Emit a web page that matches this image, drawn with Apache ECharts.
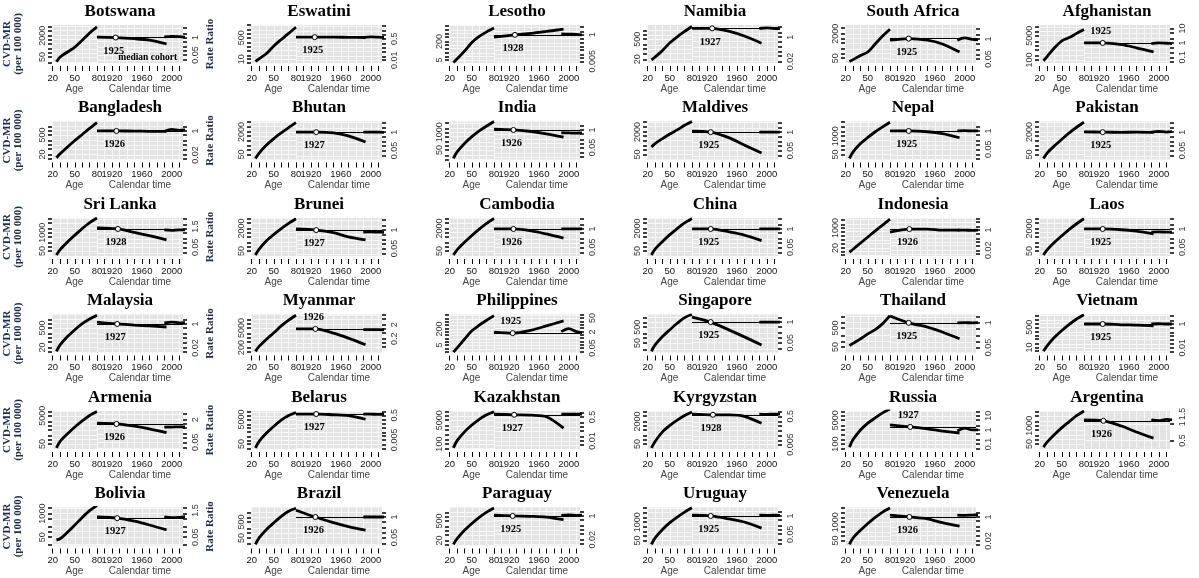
<!DOCTYPE html>
<html>
<head>
<meta charset="utf-8">
<script src="https://cdn.jsdelivr.net/npm/echarts@6/dist/echarts.min.js"></script>
<style>
    html, body { margin: 0; padding: 0; background: #fff; }
    #chart { width: 1199px; height: 578px; }
</style>
</head>
<body>
<div id="chart"></div>
<script>
var COUNTRIES = ['Botswana', 'Eswatini', 'Lesotho', 'Namibia', 'South Africa', 'Afghanistan',
    'Bangladesh', 'Bhutan', 'India', 'Maldives', 'Nepal', 'Pakistan',
    'Sri Lanka', 'Brunei', 'Cambodia', 'China', 'Indonesia', 'Laos',
    'Malaysia', 'Myanmar', 'Philippines', 'Singapore', 'Thailand', 'Vietnam',
    'Armenia', 'Belarus', 'Kazakhstan', 'Kyrgyzstan', 'Russia', 'Argentina',
    'Bolivia', 'Brazil', 'Paraguay', 'Uruguay', 'Venezuela'];

var MEDIAN_COHORT = [1925, 1925, 1928, 1927, 1925, 1925,
    1926, 1927, 1926, 1925, 1925, 1925,
    1928, 1927, 1926, 1925, 1926, 1925,
    1927, 1926, 1925, 1925, 1925, 1925,
    1926, 1927, 1927, 1928, 1927, 1926,
    1927, 1926, 1925, 1925, 1926];

// median cohort label drawn above the line in these panels
var LABEL_ABOVE = ['Afghanistan', 'Myanmar', 'Philippines', 'Russia'];

// left axis (CVD-MR, log) range and labelled ticks
var RATE_RANGE = [[18, 12700], [5, 5000], [2.7, 5400], [11, 4900], [24, 7600], [62, 27700],
    [9, 4500], [22, 11000], [10, 6300], [22, 11000], [22, 11000], [22, 11000],
    [22, 11000], [22, 11000], [22, 11000], [22, 11000], [4.3, 6800], [22, 11000],
    [9, 4500], [90, 45000], [0.87, 5500], [12.5, 3150], [26, 2600], [3.8, 6000],
    [22, 11000], [20, 25000], [45, 22500], [22, 11000], [45, 22500], [22, 11000],
    [17.3, 2180], [16.5, 4150], [9, 4500], [22, 11000], [22, 11000]];
var RATE_LABELS = [[50, 2000], [10, 500], [5, 200], [20, 500], [50, 2000], [100, 5000],
    [20, 500], [50, 2000], [50, 1000], [50, 2000], [50, 1000], [50, 2000],
    [50, 1000], [50, 2000], [50, 2000], [50, 2000], [20, 1000], [50, 2000],
    [20, 500], [200, 5000], [5, 200], [50, 500], [50, 500], [10, 500],
    [50, 5000], [50, 5000], [100, 5000], [50, 2000], [100, 5000], [50, 1000],
    [50, 1000], [50, 500], [20, 500], [50, 1000], [50, 1000]];

// right axis (Rate Ratio, log) range and labelled ticks
var RR_RANGE = [[0.0123, 8.7], [0.006, 6], [0.0036, 7.2], [0.016, 7], [0.027, 8.4], [0.04, 17.8],
    [0.0094, 4.7], [0.0114, 5.7], [0.0066, 4.2], [0.0114, 5.7], [0.0094, 4.7], [0.0114, 5.7],
    [0.012, 6], [0.0145, 7.2], [0.012, 6], [0.012, 6], [0.0066, 10.5], [0.012, 6],
    [0.0094, 4.7], [0.021, 10.6], [0.018, 113], [0.012, 3.0], [0.0275, 2.75], [0.004, 6.3],
    [0.0166, 8.3], [0.0009, 1.13], [0.0027, 1.35], [0.0024, 1.2], [0.045, 22], [0.35, 1.7],
    [0.0173, 2.17], [0.0158, 4], [0.0079, 4], [0.0079, 4], [0.0094, 4.7]];
var RR_LABELS = [[0.05, 1], [0.01, 0.5], [0.005, 1], [0.02, 1], [0.05, 1], [0.1, 1, 10],
    [0.02, 1], [0.05, 1], [0.05, 1], [0.05, 1], [0.05, 1], [0.05, 1],
    [0.05, 1.5], [0.05, 1], [0.05, 1], [0.05, 1], [0.02, 1], [0.05, 1],
    [0.02, 1], [0.2, 2], [0.05, 2, 50], [0.05, 1], [0.05, 1], [0.01, 1],
    [0.05, 2], [0.005, 0.5], [0.01, 0.5], [0.005, 0.5], [0.1, 1, 10], [0.5, 1, 1.5],
    [0.05, 1.5], [0.05, 1], [0.02, 1], [0.05, 1], [0.02, 1]];

// age effect: CVD mortality per 100 000
var AGES = [25, 30, 40, 50, 60, 70, 80];
var AGE_RATES = [
    [22, 51, 120, 283, 920, 3200, 9200],
    [6.6, 10.7, 28, 112, 360, 1100, 3300],
    [2.9, 6.2, 29, 163, 550, 1360, 2900],
    [18, 29, 83, 280, 740, 1740, 3860],
    [30, 40, 76, 127, 430, 1430, 4000],
    [89, 175, 710, 2150, 3700, 7200, 13300],
    [12, 23, 70, 200, 540, 1470, 3750],
    [26, 63, 233, 670, 1700, 4100, 9200],
    [12, 36, 150, 480, 1260, 2950, 6300],
    [172, 300, 670, 1420, 2800, 5900, 11000],
    [26, 76, 300, 810, 2060, 4600, 9700],
    [26, 63, 206, 600, 1700, 4300, 9700],
    [26, 63, 220, 670, 1950, 5200, 11000],
    [26, 67, 265, 760, 1950, 4600, 9700],
    [26, 60, 206, 630, 1800, 4600, 10200],
    [26, 67, 233, 720, 1950, 4900, 10200],
    [9, 16, 53, 170, 560, 1700, 5400],
    [26, 60, 206, 600, 1700, 4300, 9700],
    [11, 31, 122, 375, 1000, 2130, 4000],
    [108, 243, 790, 2270, 7000, 17700, 40000],
    [0.95, 2.5, 18.5, 128, 470, 1470, 4200],
    [15, 38, 128, 345, 880, 2000, 3150],
    [60, 79, 136, 248, 412, 860, 2270],
    [4.8, 14, 72, 270, 880, 2500, 5600],
    [26, 76, 265, 810, 2200, 5300, 10000],
    [25, 83, 400, 1440, 4560, 10700, 19000],
    [54, 176, 740, 2260, 5770, 12000, 20000],
    [26, 76, 360, 1040, 2470, 5200, 9200],
    [61, 210, 1000, 3080, 7300, 16500, 30800],
    [30, 67, 233, 720, 1950, 5200, 11000],
    [36, 41, 94, 235, 620, 1470, 2800],
    [19.5, 50, 168, 455, 1150, 2400, 3700],
    [10.8, 27.5, 108, 330, 900, 2130, 4200],
    [26, 76, 300, 920, 2300, 5200, 10400],
    [26, 76, 265, 810, 2200, 5200, 10000]
];

// cohort rate ratios at 1900, median cohort, 1950, 1970, 1993
var COHORT_RR = [
    [1.07, 1, 0.82, 0.63, 0.33],
    [0.66, 0.66, 0.66, 0.64, 0.62],
    [0.63, 1, 1.36, 1.98, 3.1],
    [4.1, 4.1, 2.5, 1.2, 0.38],
    [0.85, 1.08, 0.85, 0.48, 0.14],
    [1.01, 1, 0.75, 0.46, 0.24],
    [1, 1, 0.98, 0.95, 0.95],
    [1, 1, 0.88, 0.54, 0.2],
    [1.14, 1, 0.77, 0.52, 0.29],
    [1.2, 1, 0.39, 0.12, 0.033],
    [1, 1, 0.88, 0.65, 0.33],
    [1.05, 1, 0.97, 1.0, 0.95],
    [1.2, 1, 0.57, 0.33, 0.17],
    [1.2, 1, 0.65, 0.33, 0.2],
    [1, 1, 0.73, 0.44, 0.22],
    [1, 1, 0.61, 0.37, 0.15],
    [0.69, 1.23, 1.23, 1.0, 0.99],
    [1, 1, 0.88, 0.69, 0.45],
    [1.36, 1, 0.83, 0.73, 0.61],
    [1, 1, 0.5, 0.22, 0.074],
    [2.0, 1.56, 3.1, 8.2, 25.6],
    [2.05, 1, 0.31, 0.116, 0.036],
    [2.3, 1, 0.6, 0.33, 0.145],
    [1, 1, 0.86, 0.8, 0.69],
    [1.13, 1, 0.69, 0.45, 0.24],
    [0.64, 0.64, 0.56, 0.48, 0.24],
    [0.82, 0.72, 0.68, 0.53, 0.082],
    [0.72, 0.64, 0.64, 0.5, 0.16],
    [2.26, 1.65, 1.2, 0.84, 0.61],
    [1.17, 1.13, 0.91, 0.71, 0.55],
    [0.65, 0.56, 0.38, 0.235, 0.125],
    [2.7, 1, 0.44, 0.25, 0.15],
    [1.13, 1, 0.94, 0.83, 0.54],
    [1.13, 1, 0.61, 0.37, 0.137],
    [1.36, 1, 0.73, 0.39, 0.22]
];

// period rate ratios
var PERIOD_YEARS = [1990, 2000, 2010, 2019];
var PERIOD_RR = [
    [1.1, 1.2, 1.15, 1.05], [0.64, 0.7, 0.66, 0.62], [1.2, 1.15, 1.1, 1.0], [4.0, 4.4, 4.0, 4.0],
    [0.85, 1.2, 0.95, 0.9], [0.9, 1.0, 0.95, 0.9], [0.95, 1.3, 1.1, 1.2], [1, 1, 1, 0.95],
    [0.62, 0.6, 0.58, 0.6], [1, 1, 1, 1], [1, 1.05, 1, 1], [1, 1.15, 1.0, 1.1],
    [0.85, 0.8, 0.85, 0.85], [0.72, 0.75, 0.72, 0.7], [1, 1, 1, 1], [1, 1, 1, 1],
    [1, 1, 0.95, 1], [0.6, 0.62, 0.6, 0.6], [1.2, 1.35, 1.2, 1.25], [0.9, 0.88, 0.88, 0.85],
    [2.2, 4.4, 2.2, 1.7], [1, 1, 1, 1], [1, 1.02, 1, 1.02], [1, 1.05, 1, 1],
    [0.6, 0.6, 0.62, 0.6], [0.64, 0.62, 0.6, 0.62], [0.82, 0.8, 0.82, 0.8], [0.72, 0.7, 0.72, 0.72],
    [0.84, 1.37, 1.0, 1.0], [1.17, 1.14, 1.2, 1.17], [0.65, 0.6, 0.62, 0.68], [1, 1, 1, 1],
    [1.1, 1.2, 1.1, 1.15], [1.13, 1.1, 1.13, 1.1], [1.36, 1.3, 1.36, 1.4]
];

// x axis ticks
var AGE_TICKS = [20, 30, 40, 50, 60, 70, 80];
var AGE_TICK_LABELS = [20, 50, 80];
var YEAR_TICKS = [1900, 1910, 1920, 1930, 1940, 1950, 1960, 1970, 1980, 1990, 2000, 2010];
var YEAR_TICK_LABELS = [1920, 1960, 2000];
var LOG_STEPS = [0.0005, 0.001, 0.002, 0.005, 0.01, 0.02, 0.05, 0.1, 0.2, 0.5, 1, 2, 5,
    10, 20, 50, 100, 200, 500, 1000, 2000, 5000, 10000, 20000, 50000];

(function () {
    var mychart = echarts.init(document.getElementById('chart'));

    var COL_LEFT = [52, 251, 449, 647, 845, 1039];
    var AGE_W = 45, CAL_W = 86, PLOT_H = 38;
    var BG = '#e4e4e4';
    var SANS = 'Liberation Sans', SERIF = 'Liberation Serif';

    function ticksIn(range) {
        return LOG_STEPS.filter(function (v) { return v >= range[0] && v <= range[1]; });
    }
    function pairs(xs, ys) {
        return xs.map(function (x, k) { return [x, ys[k]]; });
    }
    // plain numbers, no thousands separator
    function plain(v) {
        return String(+Number(v).toPrecision(6));
    }

    var grids = [], xAxes = [], yAxes = [], series = [], titles = [];

    COUNTRIES.forEach(function (name, i) {
        var r = Math.floor(i / 6), c = i % 6;
        var L = COL_LEFT[c], T = 25 + r * 96.5;
        var gA = 2 * i, gC = 2 * i + 1;
        var med = MEDIAN_COHORT[i];
        var above = LABEL_ABOVE.indexOf(name) >= 0;

        titles.push({
            text: name, left: L + 68, top: 3 + r * 96.5, textAlign: 'center', padding: 0,
            textStyle: {fontFamily: SERIF, fontWeight: 'bold', fontSize: 17, color: '#000'}
        });

        grids.push({left: L, top: T, width: AGE_W, height: PLOT_H, show: true,
            backgroundColor: BG, borderWidth: 0});
        grids.push({left: L + AGE_W, top: T, width: CAL_W, height: PLOT_H, show: true,
            backgroundColor: BG, borderWidth: 0});

        var xCommon = {
            type: 'value', position: 'bottom', offset: 3,
            axisLine: {show: false},
            splitLine: {show: true, lineStyle: {color: '#f7f7f7', width: 1}},
            nameLocation: 'middle', nameGap: 18,
            nameTextStyle: {fontFamily: SANS, fontSize: 10, color: '#444'}
        };
        xAxes.push(Object.assign({}, xCommon, {
            gridIndex: gA, min: 19, max: 80, name: 'Age',
            axisTick: {length: 5, customValues: AGE_TICKS, lineStyle: {color: '#000', width: 1}},
            axisLabel: {customValues: AGE_TICK_LABELS, margin: 7, fontFamily: SANS, fontSize: 9.5,
                color: '#111', formatter: plain}
        }));
        xAxes.push(Object.assign({}, xCommon, {
            gridIndex: gC, min: 1900, max: 2015, name: 'Calendar time',
            axisTick: {length: 5, customValues: YEAR_TICKS, lineStyle: {color: '#000', width: 1}},
            axisLabel: {customValues: YEAR_TICK_LABELS, margin: 7, fontFamily: SANS, fontSize: 9.5,
                color: '#111', formatter: plain}
        }));

        var yNameStyle = {fontFamily: SERIF, fontWeight: 'bold', fontSize: 11, color: '#1f2d4d', lineHeight: 11};
        yAxes.push({
            type: 'log', gridIndex: gA, min: RATE_RANGE[i][0], max: RATE_RANGE[i][1], position: 'left',
            axisLine: {show: false},
            axisTick: {length: 4, customValues: ticksIn(RATE_RANGE[i]), lineStyle: {color: '#000', width: 1.5}},
            axisLabel: {customValues: RATE_LABELS[i], rotate: 90, margin: 5, fontFamily: SANS, fontSize: 9,
                color: '#333', formatter: plain},
            splitLine: {show: true, lineStyle: {color: '#f7f7f7', width: 1}},
            name: c === 0 ? 'CVD-MR\n(per 100 000)' : '', nameLocation: 'middle', nameRotate: 90, nameGap: 28,
            nameTextStyle: yNameStyle
        });
        yAxes.push({
            type: 'log', gridIndex: gC, min: RR_RANGE[i][0], max: RR_RANGE[i][1], position: 'right',
            axisLine: {show: false},
            axisTick: {length: 4, customValues: ticksIn(RR_RANGE[i]), lineStyle: {color: '#000', width: 1.5}},
            axisLabel: {customValues: RR_LABELS[i], rotate: 90, margin: 8, fontFamily: SANS, fontSize: 9,
                color: '#333', formatter: plain},
            splitLine: {show: true, lineStyle: {color: '#f7f7f7', width: 1}},
            name: c === 0 ? 'Rate Ratio' : '', nameLocation: 'middle', nameRotate: 90, nameGap: 22,
            nameTextStyle: yNameStyle
        });

        var lineStyle = {color: '#000', width: 2.8};

        // age effect
        series.push({
            type: 'line', xAxisIndex: gA, yAxisIndex: gA, data: pairs(AGES, AGE_RATES[i]),
            smooth: 0.3, showSymbol: false, lineStyle: lineStyle, clip: true, silent: true
        });

        // cohort effect with reference line and median cohort marker
        var medPoints = [{
            coord: [med, COHORT_RR[i][1]],
            label: {show: true, formatter: String(med), position: above ? 'top' : 'bottom',
                distance: above ? 3 : 5, offset: [-2, 0]}
        }];
        if (name === 'Botswana') {
            medPoints.push({
                coord: [med, COHORT_RR[i][1]], symbolSize: 0,
                label: {show: true, formatter: 'median cohort', position: 'bottom', offset: [32, 10], fontSize: 9.5}
            });
        }
        series.push({
            type: 'line', xAxisIndex: gC, yAxisIndex: gC,
            data: pairs([1900, med, 1950, 1970, 1993], COHORT_RR[i]),
            smooth: 0.3, showSymbol: false, lineStyle: lineStyle, clip: true, silent: true,
            markLine: {
                silent: true, symbol: 'none', label: {show: false},
                lineStyle: {color: '#000', width: 1, type: 'solid'},
                data: [{yAxis: COHORT_RR[i][1]}]
            },
            markPoint: {
                silent: true, symbol: 'circle', symbolSize: 5,
                itemStyle: {color: '#fff', borderColor: '#000', borderWidth: 1},
                label: {fontFamily: SERIF, fontWeight: 'bold', fontSize: 10.5, color: '#000'},
                data: medPoints
            }
        });

        // period effect
        series.push({
            type: 'line', xAxisIndex: gC, yAxisIndex: gC, data: pairs(PERIOD_YEARS, PERIOD_RR[i]),
            smooth: 0.3, showSymbol: false, lineStyle: lineStyle, clip: true, silent: true
        });
    });

    var option = {
        animation: false,
        backgroundColor: '#fff',
        title: titles,
        grid: grids,
        xAxis: xAxes,
        yAxis: yAxes,
        series: series
    };
    mychart.setOption(option);
    window.addEventListener('resize', function () {
        mychart.resize();
    });
})();
</script>
</body>
</html>
